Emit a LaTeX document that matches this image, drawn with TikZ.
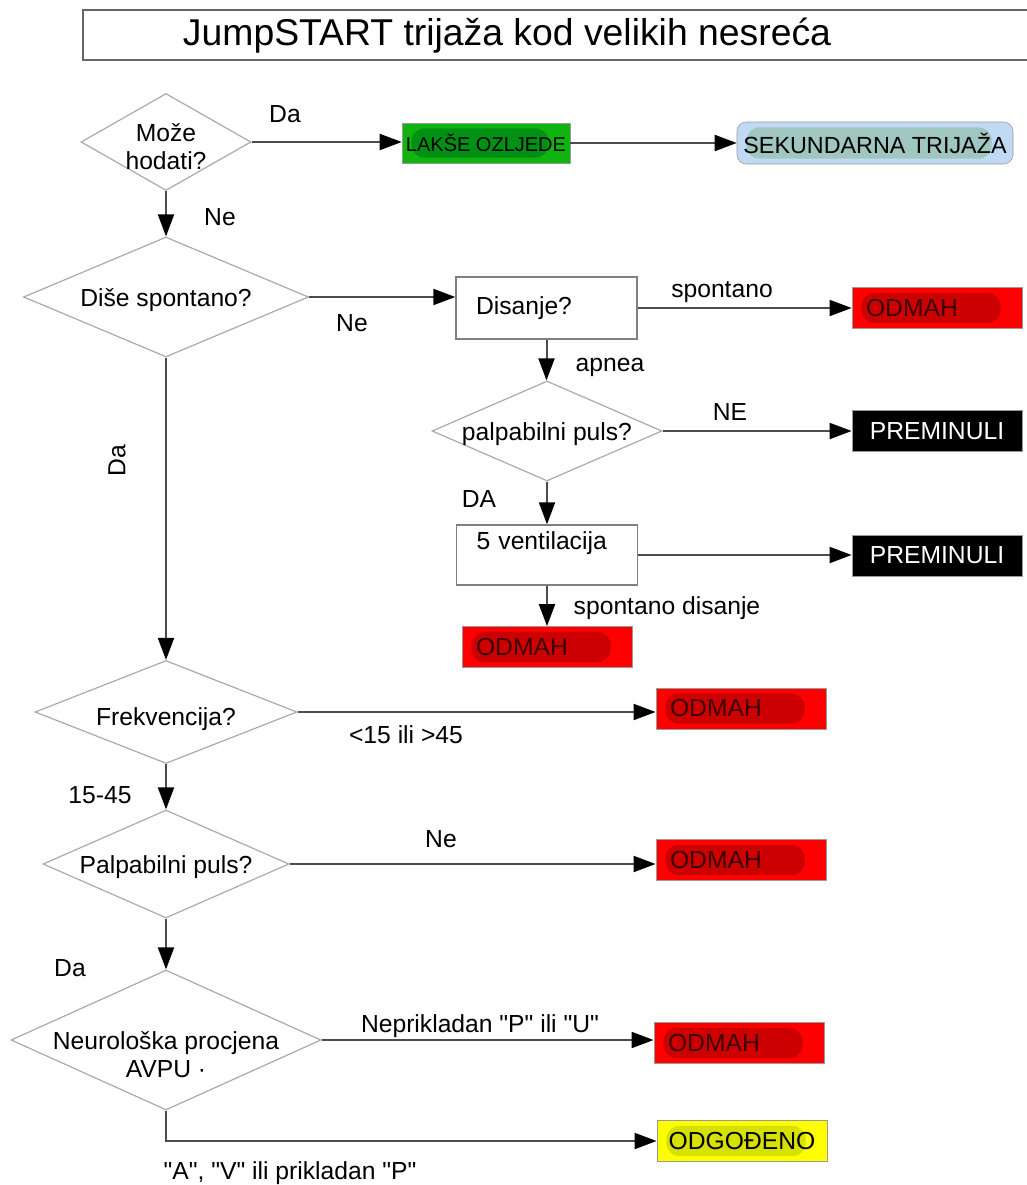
\documentclass[tikz,border=0pt]{standalone}
\usepackage{fontspec}
\setmainfont{Liberation Sans}[Ligatures=TeXOff]
\usetikzlibrary{shapes.geometric,arrows.meta}
\definecolor{oddred}{RGB}{255,0,0}
\definecolor{blobred}{RGB}{205,0,0}
\definecolor{txtred}{RGB}{60,0,0}
\definecolor{lgreen}{RGB}{15,180,15}
\definecolor{blobgreen}{RGB}{0,145,20}
\definecolor{skyfill}{RGB}{192,218,244}
\definecolor{blobsky}{RGB}{160,198,192}
\definecolor{yel}{RGB}{255,255,0}
\definecolor{blobyel}{RGB}{215,225,0}
\definecolor{diagray}{RGB}{170,170,170}
\newcommand\dtext[2][0pt]{\raisebox{\dimexpr-#1-4.6pt\relax}[0pt][0pt]{\makebox[0pt]{\begin{tabular}{@{}c@{}}#2\end{tabular}}}}
\begin{document}
\begin{tikzpicture}[x=0.75pt,y=-0.75pt,
  every node/.style={font=\fontsize{18.5}{21}\selectfont},
  dec/.style={diamond, draw=diagray, line width=0.9pt, inner sep=0pt, shape aspect=2.2},
  procbox/.style={rectangle, draw=black!50, line width=1pt, inner xsep=15pt, text width=105.75pt, align=left},
  blob/.style={path picture={\fill[#1, rounded corners=10pt] ([xshift=7pt,yshift=4pt]path picture bounding box.south west) rectangle ([xshift=-16pt,yshift=-4pt]path picture bounding box.north east);}},
  outbox/.style={rectangle, draw=black!40, line width=0.6pt, minimum width=127.5pt, minimum height=30.75pt},
  odmah/.style={outbox, fill=oddred, text=txtred, text width=106.5pt, inner xsep=10.5pt, align=left, blob=blobred},
  prem/.style={outbox, fill=black, text=white},
  odg/.style={outbox, fill=yel, blob=blobyel},
  lakse/.style={rectangle, fill=lgreen, draw=black!40, minimum width=126pt, minimum height=30pt, inner xsep=2pt, font=\fontsize{15}{17}\selectfont, blob=blobgreen},
  sek/.style={rectangle, rounded corners=7pt, fill=skyfill, draw=black!40, minimum width=207pt, minimum height=31.5pt, font=\fontsize{17.5}{20}\selectfont, blob=blobsky},
  arr/.style={draw=black!70, line width=1.5pt, -{Triangle[length=16.5pt,width=12pt,color=black]}},
  lab/.style={inner sep=1pt}
]
\useasboundingbox (0,0) rectangle (1027,1185);
\fill[white] (0,0) rectangle (1027,1185);

% title
\draw[black!60, line width=1pt] (1027,10) -- (83,10) -- (83,60) -- (1027,60);
\node[font=\fontsize{28}{32}\selectfont] (title) at (507,36) {JumpSTART trijaža kod velikih nesreća};

% nodes
\node[dec, minimum width=127.5pt, minimum height=72.75pt] (may) at (166,142) {\dtext[5.6pt]{Može\\hodati?}};
\node[lakse] (lakse) at (486,143) {LAKŠE OZLJEDE};
\node[sek] (sek) at (875,143) {SEKUNDARNA TRIJAŽA};
\node[dec, minimum width=213.75pt, minimum height=90pt] (dise) at (166,297) {\dtext[2.3pt]{Diše spontano?}};
\node[procbox, minimum height=46.5pt] (disanje) at (546.5,308) {Disanje?};
\node[odmah] (o1) at (937,308) {ODMAH};
\node[dec, minimum width=172.5pt, minimum height=75pt] (palp1) at (547,431) {\dtext[3pt]{palpabilni puls?}};
\node[prem] (p1) at (937,431) {PREMINULI};
\node[procbox, minimum height=45pt, text height=13.5pt, text depth=22.5pt] (vent) at (547,555) {5 ventilacija};
\node[prem] (p2) at (937,555.5) {PREMINULI};
\node[odmah] (o2) at (547,647) {ODMAH};
\node[dec, minimum width=196.5pt, minimum height=77.25pt] (frek) at (166,712) {\dtext[5.3pt]{Frekvencija?}};
\node[odmah] (o3) at (741,708.5) {ODMAH};
\node[dec, minimum width=184.5pt, minimum height=81pt] (palp2) at (166,864) {\dtext[2.3pt]{Palpabilni puls?}};
\node[odmah] (o4) at (741,860) {ODMAH};
\node[dec, minimum width=232.5pt, minimum height=105pt] (neuro) at (166,1040) {\dtext[13.5pt]{Neurološka procjena\\AVPU ·}};
\node[odmah] (o5) at (739,1043) {ODMAH};
\node[odg] (odg) at (742,1141) {ODGOĐENO};

% connectors
\draw[arr] (may.east) -- (may.east -| lakse.west);
\draw[arr] (lakse.east) -- (lakse.east -| sek.west);
\draw[arr] (may.south) -- (dise.north);
\draw[arr] (dise.east) -- (dise.east -| disanje.west);
\draw[arr] (disanje.east) -- (o1.west);
\draw[arr] (disanje.south) -- (disanje.south |- palp1.north);
\draw[arr] (palp1.east) -- (p1.west);
\draw[arr] (palp1.south) -- (vent.north);
\draw[arr] (vent.east) -- (vent.east -| p2.west);
\draw[arr] (vent.south) -- (o2.north);
\draw[arr] (dise.south) -- (frek.north);
\draw[arr] (frek.east) -- (frek.east -| o3.west);
\draw[arr] (frek.south) -- (palp2.north);
\draw[arr] (palp2.east) -- (palp2.east -| o4.west);
\draw[arr] (palp2.south) -- (neuro.north);
\draw[arr] (neuro.east) -- (neuro.east -| o5.west);
\draw[arr] (neuro.south) |- (odg.west);

% labels
\node[lab] (lDa1) at (285,114) {Da};
\node[lab] (lNe1) at (220,217) {Ne};
\node[lab] (lNe2) at (352,323) {Ne};
\node[lab] (lsp) at (722,292) {spontano};
\node[lab] (lap) at (610,367) {apnea};
\node[lab] (lNE) at (730,412) {NE};
\node[lab] (lDA) at (479,499) {DA};
\node[lab] (lspd) at (667,608) {spontano disanje};
\node[lab, rotate=90] (lDa2) at (117,461) {Da};
\node[lab] (l15) at (406,735) {<15 ili >45};
\node[lab] (l1545) at (100,795) {15-45};
\node[lab] (lNe3) at (441,839) {Ne};
\node[lab] (lDa3) at (70,968) {Da};
\node[lab] (lnep) at (480,1026) {Neprikladan "P" ili "U"};
\node[lab] (lavp) at (290,1173) {"A", "V" ili prikladan "P"};
\end{tikzpicture}
\end{document}
